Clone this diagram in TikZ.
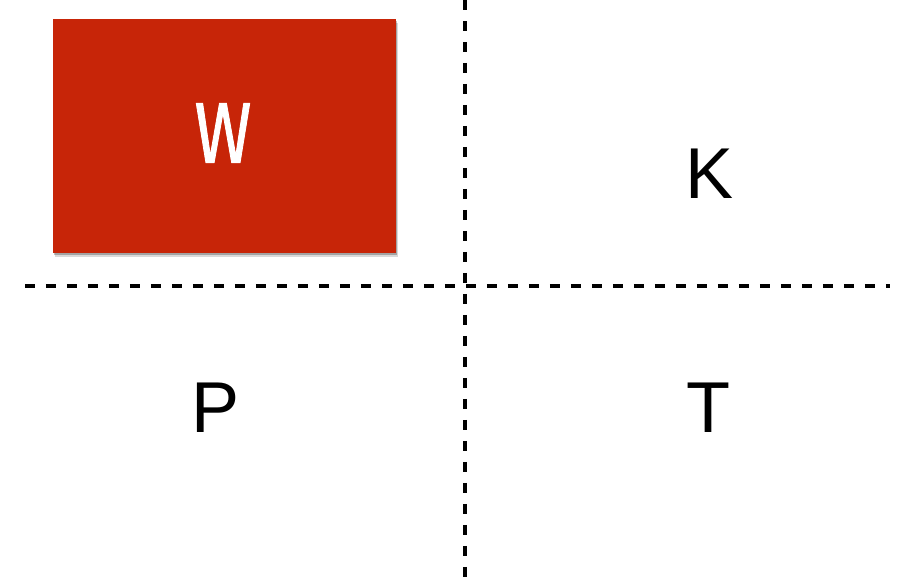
\documentclass[tikz,border=0pt]{standalone}
\usepackage{fontspec}
\setmainfont{Liberation Sans}
\newfontfamily\boxfont{Fira Sans}[FakeBold=1.2]
\usetikzlibrary{shadows}
\definecolor{boxred}{RGB}{199,37,8}
\tikzset{
  letter/.style={font=\fontsize{41}{41}\selectfont},
  divider/.style={line width=2.6pt, dash pattern=on 0.2cm off 0.22cm}
}
\begin{document}
\begin{tikzpicture}[x=0.02cm,y=-0.02cm]
\useasboundingbox (0,0) rectangle (897,583);

\node [fill=boxred, minimum width=6.86cm, minimum height=4.68cm, inner sep=0pt,
  drop shadow={shadow xshift=0.6pt, shadow yshift=-1.2pt, fill=black, opacity=0.25},
  drop shadow={shadow xshift=1.2pt, shadow yshift=-2.4pt, fill=black, opacity=0.15}] (w) at (224.5,136) {};
\node [text=white, xscale=0.8, font=\boxfont\fontsize{49}{49}\selectfont] (wl) at (223,133) {W};
\node [letter] (k) at (710,174) {K};
\node [letter] (p) at (216,408) {P};
\node [letter] (t) at (708,408) {T};
\coordinate (v1) at (465,0);
\coordinate (v2) at (465,583);
\coordinate (h1) at (25,286);
\coordinate (h2) at (890,286);
\draw [divider]  (v1) edge (v2);
\draw [divider]  (h1) edge (h2);
\end{tikzpicture}
\end{document}
